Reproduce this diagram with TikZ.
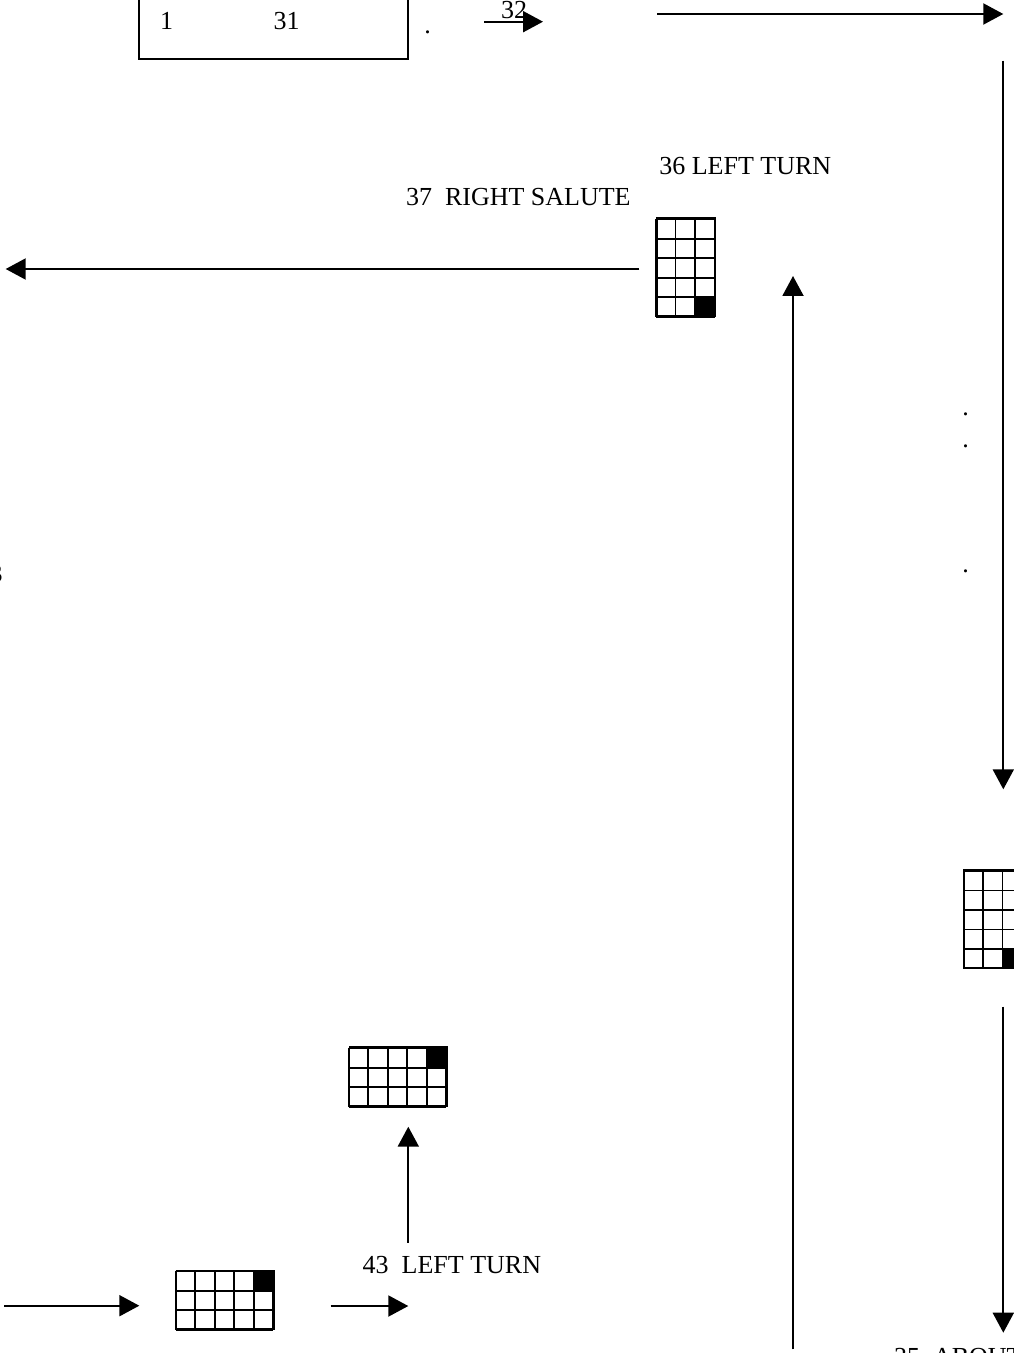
\documentclass[tikz,border=0pt]{standalone}
\usepackage{fontspec}
\setmainfont{Liberation Serif}
\usetikzlibrary{arrows.meta,positioning}

\begin{document}
\begin{tikzpicture}[x=0.5pt, y=-0.5pt, >={Triangle[length=10pt,width=10.5pt]}, line width=1pt]

  % Styles
  \tikzset{
    move/.style={->, line width=1pt},
    txt/.style={inner sep=0pt, font=\fontsize{13}{15}\selectfont},
    squad/.style n args={2}{draw, line width=0.9pt, inner sep=0pt,
      minimum width=#1*9.75pt, minimum height=#2*9.75pt},
    gridline/.style={line width=0.9pt}
  }

  \useasboundingbox (0,0) rectangle (1013,1353);

  % Start box
  \node[draw, inner sep=0pt, minimum width=134.65pt, minimum height=99pt] (start) at (273.7,-39.7) {};
  \node[txt, anchor=base] (n1) at (166.7,30) {1};
  \node[txt, anchor=base] (n31) at (286.7,30) {31};
  \node[txt, anchor=base] (dotA) at (427.7,34) {.};

  % 32: forward
  \coordinate (a32s) at (484,21.7);
  \coordinate (a32e) at (543,21.7);
  \draw[move] (a32s) -- (a32e);
  \node[txt] (l32) at (514,10.3) {32};
  \coordinate (topS) at (657.3,14);
  \coordinate (topE) at (1003.3,14);
  \draw[move] (topS) -- (topE);

  % Right side: down to the turn
  \coordinate (rS) at (1003.3,60.7);
  \coordinate (rE) at (1003.3,789.3);
  \draw[move] (rS) -- (rE);
  \node[txt, anchor=base] (dotB) at (965.7,415.6) {.};
  \node[txt, anchor=base] (dotC) at (965.7,447) {.};
  \node[txt, anchor=base] (dotD) at (965.7,572.6) {.};

  \node[squad={3}{5}] (f35) at (993.6,918.8) {};
  \draw[gridline, shift={(f35.south west)}] (0pt,0pt) grid[step=9.75pt] (29.25pt,48.75pt);
  \fill[shift={(f35.south west)}] (19.5pt,0pt) rectangle (29.25pt,9.75pt);

  \coordinate (r2S) at (1003.3,1006.7);
  \coordinate (r2E) at (1003.3,1332.7);
  \draw[move] (r2S) -- (r2E);
  \node[txt, anchor=base west] (l35) at (893,1365) {35\ \ ABOUT};

  % 36 / 37
  \node[txt, anchor=base west] (l36) at (658.3,175) {36 LEFT TURN};
  \node[txt, anchor=base west] (l37) at (405,205.7) {37\ \ RIGHT SALUTE};

  \node[squad={3}{5}] (f36) at (686.2,267) {};
  \draw[gridline, shift={(f36.south west)}] (0pt,0pt) grid[step=9.75pt] (29.25pt,48.75pt);
  \fill[shift={(f36.south west)}] (19.5pt,0pt) rectangle (29.25pt,9.75pt);

  \coordinate (lS) at (639.3,269);
  \coordinate (lE) at (5.7,269);
  \draw[move] (lS) -- (lE);
  \node[txt, anchor=base east] (l38) at (3.5,582) {3};

  % Long way back up
  \coordinate (uS) at (793,1349.3);
  \coordinate (uE) at (793,276);
  \draw[move] (uS) -- (uE);

  % Bottom: 43
  \node[squad={5}{3}] (f42) at (225.3,1299.7) {};
  \draw[gridline, shift={(f42.south west)}] (0pt,0pt) grid[step=9.75pt] (48.75pt,29.25pt);
  \fill[shift={(f42.south west)}] (39pt,19.5pt) rectangle (48.75pt,29.25pt);

  \coordinate (bS) at (4,1305.7);
  \coordinate (bE) at (139.3,1305.7);
  \draw[move] (bS) -- (bE);
  \coordinate (b2S) at (330.7,1306);
  \coordinate (b2E) at (408.3,1306);
  \draw[move] (b2S) -- (b2E);

  \node[txt, anchor=base west] (l43) at (361.7,1273.3) {43\ \ LEFT TURN};
  \coordinate (u43S) at (408.3,1242.7);
  \coordinate (u43E) at (408.3,1126.7);
  \draw[move] (u43S) -- (u43E);

  \node[squad={5}{3}] (f43) at (398.3,1076.5) {};
  \draw[gridline, shift={(f43.south west)}] (0pt,0pt) grid[step=9.75pt] (48.75pt,29.25pt);
  \fill[shift={(f43.south west)}] (39pt,19.5pt) rectangle (48.75pt,29.25pt);

\end{tikzpicture}
\end{document}
